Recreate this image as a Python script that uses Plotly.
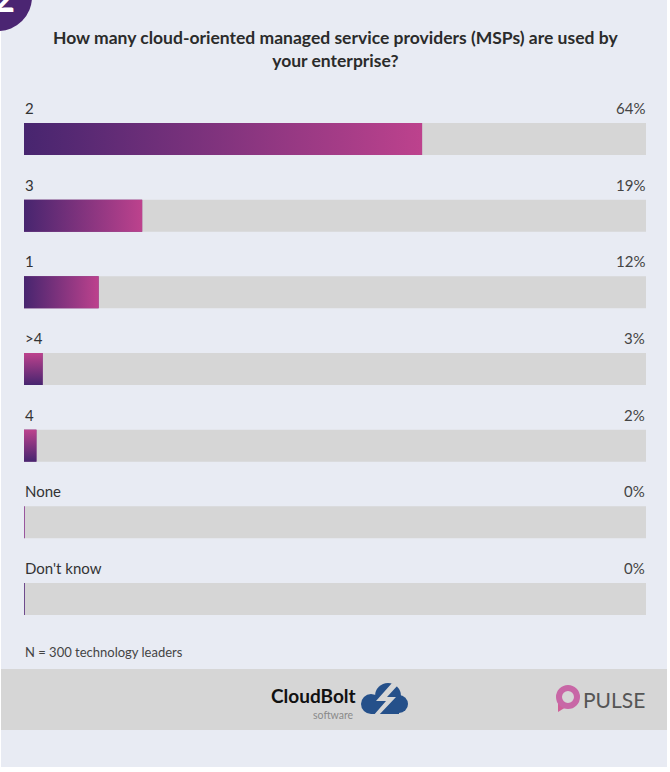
import plotly.graph_objects as go

categories = ["2", "3", "1", ">4", "4", "None", "Don't know"]
values = [64, 19, 12, 3, 2, 0, 0]
value_labels = ["64%", "19%", "12%", "3%", "2%", "0%", "0%"]

W, H = 670, 772
def px(x): return x / W
def py(y): return 1 - y / H

BG = "#e8ebf3"
TRACK = "#d6d6d6"
DARK = "#47256f"
PINK = "#bd428d"
BAR_W = 0.417

idx = list(range(len(categories)))
fig = go.Figure()

# grey tracks
fig.add_trace(go.Bar(x=[100] * len(categories), y=idx, orientation="h", width=BAR_W,
                     marker=dict(color=TRACK, line=dict(width=0)), hoverinfo="skip", showlegend=False))
# data bars (solid base)
fig.add_trace(go.Bar(x=values, y=idx, orientation="h", width=BAR_W,
                     marker=dict(color="#7a3180", line=dict(width=0)), showlegend=False,
                     customdata=categories, hovertemplate="%{customdata}: %{x}%<extra></extra>"))

# gradient overlays derived from the data values
bar_px_per_unit = (646 - 24) / 100
bar_h_px = 32
for i, v in enumerate(values):
    y0, y1 = i - BAR_W / 2, i + BAR_W / 2
    if v > 0:
        horiz = v * bar_px_per_unit > bar_h_px
        grad = dict(type="horizontal", colorscale=[[0, DARK], [1, PINK]]) if horiz else \
            dict(type="vertical", colorscale=[[0, DARK], [1, PINK]])
        fig.add_trace(go.Scatter(x=[0, v, v, 0, 0], y=[y0, y0, y1, y1, y0], mode="lines",
                                 fill="toself", fillgradient=grad, line=dict(width=0),
                                 hoverinfo="skip", showlegend=False))
    else:
        fig.add_trace(go.Scatter(x=[v, v], y=[y0, y1], mode="lines",
                                 line=dict(width=1.6, color="#8a3590" if i == 5 else "#55287a"),
                                 hoverinfo="skip", showlegend=False))

annotations = []
for i, (c, lab) in enumerate(zip(categories, value_labels)):
    annotations.append(dict(x=0, y=i, xref="x", yref="y", text=c, showarrow=False,
                            xanchor="left", yanchor="middle", yshift=31, xshift=-1,
                            font=dict(family="Lato", size=15, color="#333333")))
    annotations.append(dict(x=100, y=i, xref="x", yref="y", text=lab, showarrow=False,
                            xanchor="right", yanchor="middle", yshift=31, xshift=1,
                            font=dict(family="Lato", size=15, color="#444444")))

# title
annotations.append(dict(x=px(335), y=py(49), xref="paper", yref="paper", showarrow=False,
                        text="<b>How many cloud-oriented managed service providers (MSPs) are used by<br>your enterprise?</b>",
                        xanchor="center", yanchor="middle", align="center",
                        font=dict(family="Lato", size=17.5, color="#2b2b2b")))
# sample note
annotations.append(dict(x=px(23), y=py(652), xref="paper", yref="paper", showarrow=False,
                        text="N = 300 technology leaders", xanchor="left", yanchor="middle",
                        font=dict(family="Lato", size=13, color="#444444")))
# section number (partially cut)
annotations.append(dict(x=px(4), y=py(22), xref="paper", yref="paper", showarrow=False,
                        text="<b>2</b>", xanchor="center", yanchor="bottom",
                        font=dict(family="Lato", size=38, color="white")))
# footer logos
annotations.append(dict(x=px(358), y=py(695), xref="paper", yref="paper", showarrow=False,
                        text="<b>CloudBolt</b>", xanchor="right", yanchor="middle",
                        font=dict(family="Lato", size=19, color="#111111")))
annotations.append(dict(x=px(356), y=py(715), xref="paper", yref="paper", showarrow=False,
                        text="software", xanchor="right", yanchor="middle",
                        font=dict(family="Lato", size=10.5, color="#8a8a8a")))
annotations.append(dict(x=px(647), y=py(699), xref="paper", yref="paper", showarrow=False,
                        text="PULSE", xanchor="right", yanchor="middle",
                        font=dict(family="Lato", size=21, color="#555555")))

def circ(cx, cy, r, **kw):
    return dict(type="circle", xref="paper", yref="paper", x0=px(cx - r), x1=px(cx + r),
                y0=py(cy + r), y1=py(cy - r), layer="above", **kw)

shapes = [
    dict(type="rect", xref="paper", yref="paper", x0=px(1), x1=px(667), y0=py(767), y1=py(0),
         fillcolor=BG, line=dict(width=0), layer="below"),
    dict(type="rect", xref="paper", yref="paper", x0=px(1), x1=px(667), y0=py(730), y1=py(669),
         fillcolor=TRACK, line=dict(width=0), layer="below"),
    circ(-2, -3, 34, fillcolor="#4b2572", line=dict(width=0)),
    # CloudBolt cloud
    circ(388, 696, 13, fillcolor="#25508a", line=dict(width=0)),
    circ(371, 704, 10, fillcolor="#25508a", line=dict(width=0)),
    circ(399, 704, 9, fillcolor="#25508a", line=dict(width=0)),
    dict(type="rect", xref="paper", yref="paper", x0=px(371), x1=px(399), y0=py(714), y1=py(700),
         fillcolor="#25508a", line=dict(width=0), layer="above"),
    dict(type="path", xref="paper", yref="paper", layer="above",
         path=f"M {px(392)} {py(683)} L {px(376)} {py(701)} L {px(386)} {py(701)} L {px(373)} {py(716)} "
              f"L {px(378)} {py(716)} L {px(396)} {py(697)} L {px(387)} {py(697)} L {px(398)} {py(685)} Z",
         fillcolor=TRACK, line=dict(width=0)),
    # Pulse bubble
    dict(type="path", xref="paper", yref="paper", layer="above",
         path=f"M {px(558)} {py(698)} L {px(558)} {py(712)} L {px(566)} {py(707)} Z",
         fillcolor="#cf5f98", line=dict(width=0)),
    circ(568, 697, 9, fillcolor="rgba(0,0,0,0)", line=dict(width=6, color="#c867a6")),
]

fig.update_layout(
    width=W, height=H, margin=dict(l=0, r=0, t=0, b=0),
    paper_bgcolor="white", plot_bgcolor="rgba(0,0,0,0)",
    barmode="overlay", showlegend=False,
    xaxis=dict(domain=[px(24), px(646)], range=[0, 100], visible=False, fixedrange=True),
    yaxis=dict(domain=[py(637.3), py(100.7)], range=[6.5, -0.5], visible=False, fixedrange=True),
    annotations=annotations, shapes=shapes,
)

fig.write_html("out.html")
